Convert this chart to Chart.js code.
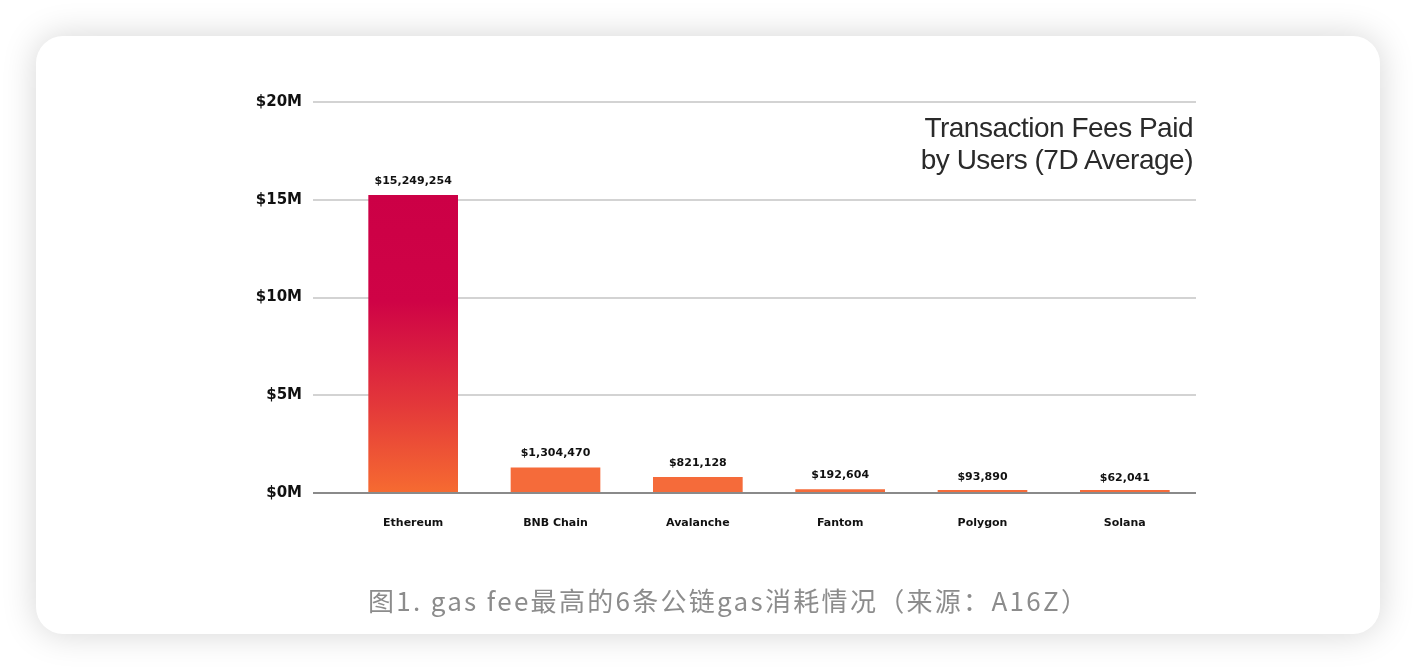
<!DOCTYPE html>
<html>
<head>
<meta charset="utf-8">
<script src="https://cdn.jsdelivr.net/npm/chart.js@4.4.1/dist/chart.umd.min.js"></script>
<style>
  html, body { margin: 0; padding: 0; width: 1416px; height: 670px; background: #ffffff; overflow: hidden; }
  #card { position: absolute; left: 36px; top: 36px; width: 1344px; height: 598px; background: #fff;
          border-radius: 27px; box-shadow: 0 0 34px rgba(0,0,0,0.17); }
  #wrap { position: absolute; left: 0; top: 0; width: 1416px; height: 670px; }
  #title { position: absolute; right: 223px; top: 112px; text-align: right; font-family: "Liberation Sans", Arial, sans-serif;
           font-size: 28px; line-height: 32px; letter-spacing: -0.5px; color: #2a2a2a; white-space: nowrap; }
  #caption { position: absolute; left: 368px; top: 583px; text-align: left; white-space: nowrap;
             font-family: "Noto Sans CJK SC", sans-serif; font-size: 26px; line-height: 34px; letter-spacing: 2.3px; color: #8c8c8c; }
</style>
</head>
<body>
<div id="card"></div>
<div id="wrap"><canvas id="c" width="1416" height="670"></canvas></div>
<div id="title">Transaction Fees Paid<br>by Users (7D Average)</div>
<div id="caption">图1. gas fee最高的6条公链gas消耗情况（来源：A16Z）</div>
<script>
const categories = ["Ethereum", "BNB Chain", "Avalanche", "Fantom", "Polygon", "Solana"];
const fees = [15249254, 1304470, 821128, 192604, 93890, 62041];
const feeLabels = ["$15,249,254", "$1,304,470", "$821,128", "$192,604", "$93,890", "$62,041"];
const yTicks = [0, 5000000, 10000000, 15000000, 20000000];

const valueLabels = {
  id: 'valueLabels',
  afterDatasetsDraw(chart) {
    const ctx = chart.ctx;
    const meta = chart.getDatasetMeta(0);
    const yScale = chart.scales.y;
    ctx.save();
    ctx.font = 'bold 11px "DejaVu Sans"';
    ctx.fillStyle = '#111';
    ctx.textAlign = 'center';
    ctx.textBaseline = 'alphabetic';
    meta.data.forEach((bar, i) => {
      const top = yScale.getPixelForValue(fees[i]);
      ctx.fillText(feeLabels[i], bar.x, top - 11);
    });
    ctx.restore();
  }
};

function barColor(context) {
  const chart = context.chart;
  const area = chart.chartArea;
  if (!area) return '#F4683A';
  if (context.dataIndex !== 0) return '#F56B3A';
  const yScale = chart.scales.y;
  const top = yScale.getPixelForValue(fees[0]);
  const bottom = yScale.getPixelForValue(0);
  const g = chart.ctx.createLinearGradient(0, top, 0, bottom);
  g.addColorStop(0, '#CC0046');
  g.addColorStop(0.36, '#CF0346');
  g.addColorStop(0.7, '#E3373A');
  g.addColorStop(1, '#F66B31');
  return g;
}

new Chart(document.getElementById('c'), {
  type: 'bar',
  data: {
    labels: categories,
    datasets: [{
      data: fees,
      backgroundColor: barColor,
      borderWidth: 0,
      minBarLength: 3,
      barPercentage: 0.63,
      categoryPercentage: 1.0
    }]
  },
  options: {
    responsive: false,
    devicePixelRatio: 1,
    animation: false,
    layout: { padding: { left: 0, right: 220, top: 102, bottom: 0 } },
    plugins: { legend: { display: false }, tooltip: { enabled: false } },
    scales: {
      x: {
        grid: { display: false, drawTicks: false },
        border: { display: false },
        ticks: { color: '#111', font: { family: 'DejaVu Sans', size: 11, weight: 'bold' }, padding: 24 },
        afterFit(s) { s.height = 177; }
      },
      y: {
        min: 0, max: 20000000,
        afterBuildTicks(s) { s.ticks = yTicks.map(v => ({ value: v })); },
        grid: {
          color: (c) => (c.tick && c.tick.value === 0) ? '#8a8a8a' : '#d3d3d3',
          lineWidth: 2,
          drawTicks: true,
          tickLength: 29
        },
        border: { display: false },
        ticks: {
          color: '#111',
          font: { family: 'DejaVu Sans', size: 15, weight: 'bold' },
          padding: 11,
          callback: (v) => '$' + (v / 1000000) + 'M'
        },
        afterFit(s) { s.width = 342; }
      }
    }
  },
  plugins: [valueLabels]
});
</script>
</body>
</html>
